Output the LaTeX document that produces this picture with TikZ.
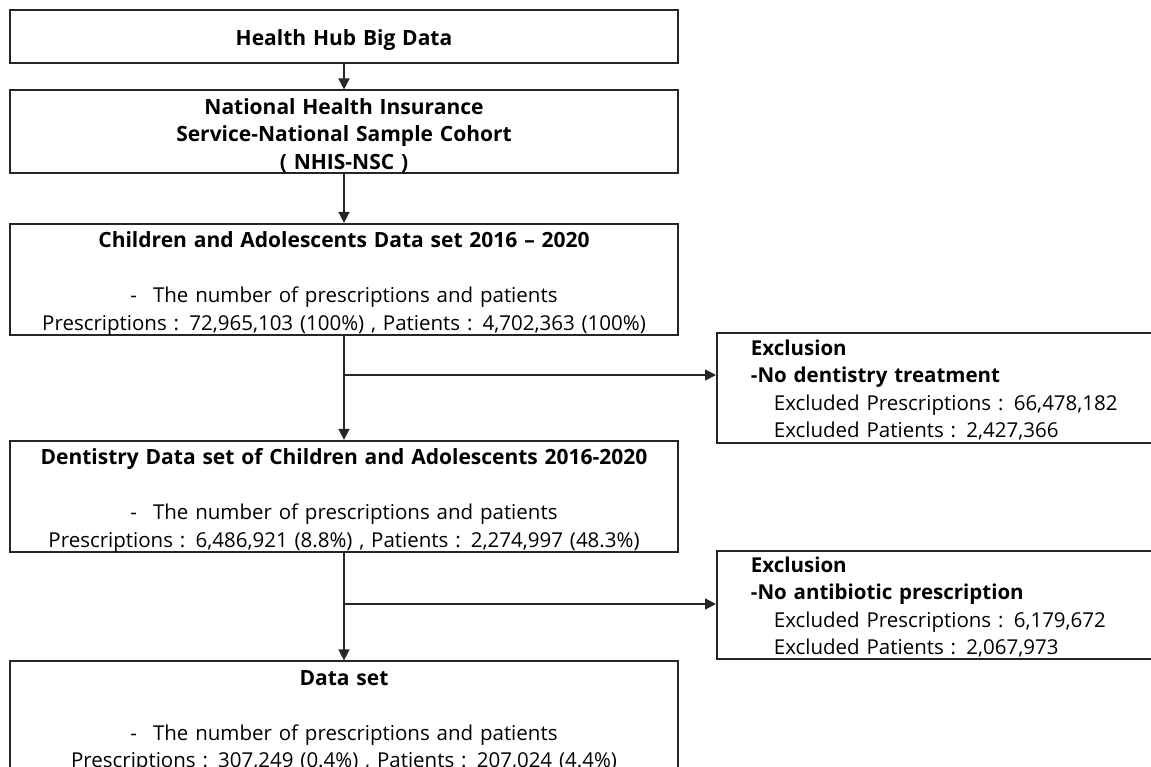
\documentclass[tikz,border=0pt]{standalone}
\usepackage{fontspec}
\setmainfont{Open Sans}
\newfontfamily\stagefont[WordSpace=1.3,Ligatures=TeX]{Open Sans}
\usetikzlibrary{arrows.meta}
\tikzstyle{stagebox}=[
	draw=black!85,
	shape=rectangle,
	line width=1.8pt,
	text width=668pt,
	inner sep=0pt,
	align=center,
	execute at begin node={\rule{0pt}{24pt}},
	font=\stagefont\fontsize{20.5}{27.5}\selectfont
]
\tikzstyle{exclbox}=[
	draw=black!85,
	shape=rectangle,
	line width=1.8pt,
	anchor=west,
	text width=381pt,
	inner xsep=34pt,
	inner ysep=0pt,
	align=left,
	execute at begin node={\rule{0pt}{19.5pt}},
	font=\fontsize{20.5}{27.5}\selectfont
]
\tikzstyle{flow} = [draw=black!85,line width=1.5pt,-{Triangle[length=11pt,width=11pt]}]
\newcommand{\boxtitle}[1]{{\fontsize{21}{27.5}\selectfont\textbf{#1}}}

\begin{document}
\begin{tikzpicture}[x=1pt,y=-1pt]

				\useasboundingbox (0,0) rectangle (1151,766);

				\node[stagebox,minimum height=53pt]	(hub)	at (344,36.5) {\boxtitle{Health Hub Big Data}};
				\node[stagebox,minimum height=81pt]	(nhis)	at (344,131.5) {\boxtitle{National Health Insurance}\\
					\boxtitle{Service-National Sample Cohort}\\ \boxtitle{( NHIS-NSC )}};
				\node[stagebox,minimum height=109pt]	(cads)	at (344,279.5) {\boxtitle{Children and Adolescents Data set 2016 \textendash{} 2020}\\[27.5pt]
					-\hspace{16pt}The number of prescriptions and patients\\
					Prescriptions : 72,965,103 (100\%) , Patients : 4,702,363 (100\%)};
				\node[stagebox,minimum height=109pt]	(dent)	at (344,496.5) {\boxtitle{Dentistry Data set of Children and Adolescents 2016-2020}\\[27.5pt]
					-\hspace{16pt}The number of prescriptions and patients\\
					Prescriptions : 6,486,921 (8.8\%) , Patients : 2,274,997 (48.3\%)};
				\node[stagebox,minimum height=110pt,execute at begin node={\rule{0pt}{17pt}}]	(dset)	at (344,717) {\boxtitle{Data set}\\[27.5pt]
					-\hspace{16pt}The number of prescriptions and patients\\
					Prescriptions : 307,249 (0.4\%) , Patients : 207,024 (4.4\%)};

				\node[exclbox,minimum height=110pt]	(ex1)	at (716,388) {\textbf{Exclusion}\\
					\textbf{-No dentistry treatment}\\
					\hspace*{23pt}Excluded Prescriptions : 66,478,182\\
					\hspace*{23pt}Excluded Patients : 2,427,366};
				\node[exclbox,minimum height=108pt]	(ex2)	at (716,605) {\textbf{Exclusion}\\
					\textbf{-No antibiotic prescription}\\
					\hspace*{23pt}Excluded Prescriptions : 6,179,672\\
					\hspace*{23pt}Excluded Patients : 2,067,973};

				\coordinate	(br1)	at (344,375);
				\coordinate	(br2)	at (344,604);

				\path
				(hub) edge[flow] (nhis)
				(nhis) edge[flow] (cads)
				(cads) edge[flow] (dent)
				(dent) edge[flow] (dset)
				(br1) edge[flow] (br1 -| ex1.west)
				(br2) edge[flow] (br2 -| ex2.west);

			\end{tikzpicture}
\end{document}
